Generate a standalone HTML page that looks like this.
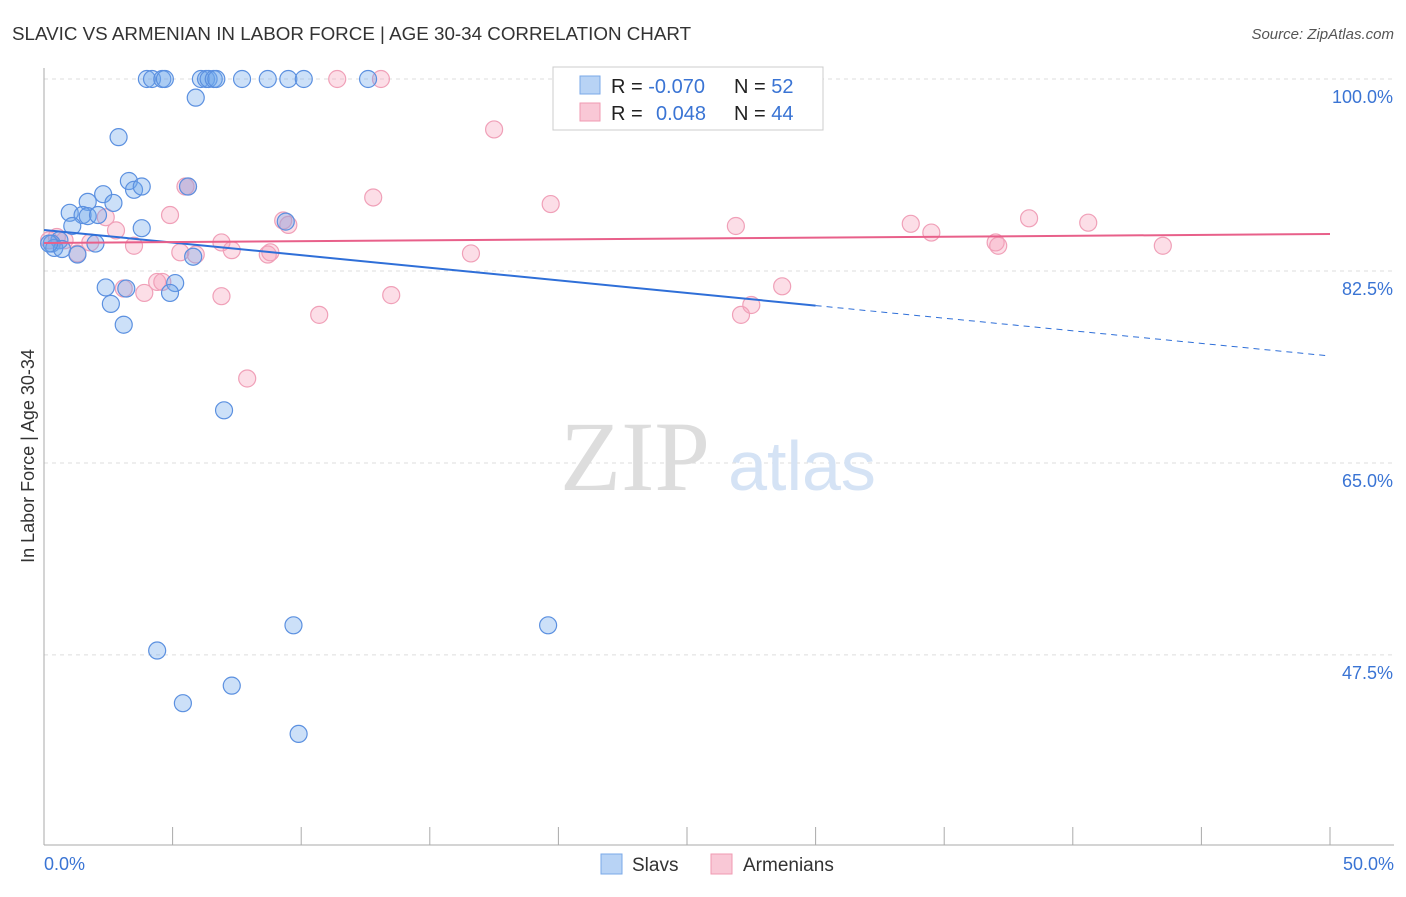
<!DOCTYPE html>
<html><head><meta charset="utf-8"><style>
body{margin:0;background:#fff;font-family:"Liberation Sans",sans-serif}
</style></head><body>
<svg id="chart" width="1406" height="892" font-family="Liberation Sans, sans-serif">
<text x="12" y="40" font-size="18.8" fill="#333">SLAVIC VS ARMENIAN IN LABOR FORCE | AGE 30-34 CORRELATION CHART</text>
<text x="1394" y="39" font-size="15" fill="#555" font-style="italic" text-anchor="end">Source: ZipAtlas.com</text>
<text x="34" y="456" font-size="18" fill="#333" text-anchor="middle" transform="rotate(-90 34 456)">In Labor Force | Age 30-34</text>
<g id="grid"></g>
<g><text x="635" y="490" font-size="100" fill="#ddd" style="font-family:'Liberation Serif',serif" text-anchor="middle">ZIP</text><text x="802" y="490" font-size="70" fill="#d5e3f5" text-anchor="middle">atlas</text></g>
<g id="pts"></g>
<g id="lines"></g>
<g>
<rect x="553" y="67" width="270" height="63" fill="#fff" stroke="#ccc"/>
<rect x="580" y="76" width="20" height="18" fill="#b8d3f5" stroke="#7aa8e8"/>
<rect x="580" y="103" width="20" height="18" fill="#f9c8d6" stroke="#f09ab2"/>
<text x="611" y="93" font-size="20" fill="#222">R = <tspan fill="#3a74d4">-0.070</tspan></text>
<text x="734" y="93" font-size="20" fill="#222">N = <tspan fill="#3a74d4">52</tspan></text>
<text x="611" y="120" font-size="20" fill="#222">R = <tspan fill="#3a74d4" x="656">0.048</tspan></text>
<text x="734" y="120" font-size="20" fill="#222">N = <tspan fill="#3a74d4">44</tspan></text>
</g>
<g>
<rect x="601" y="854" width="21" height="20" fill="#b8d3f5" stroke="#7aa8e8"/>
<text x="632" y="871" font-size="19" fill="#333">Slavs</text>
<rect x="711" y="854" width="21" height="20" fill="#f9c8d6" stroke="#f09ab2"/>
<text x="743" y="871" font-size="19" fill="#333">Armenians</text>
</g>
</svg>
<script>
const slavX=[4.0,4.2,4.6,4.7,6.1,6.3,6.4,6.6,6.7,7.7,8.7,9.5,10.1,12.6,28.1,5.9,2.9,3.3,3.5,3.8,2.3,1.7,2.7,1.0,1.5,1.7,2.1,1.1,3.8,0.6,0.3,0.4,0.7,2.0,1.3,5.8,5.1,2.4,3.2,4.9,2.6,3.1,7.0,9.7,19.6,4.4,7.3,5.4,9.9,5.6,9.4,0.2];
const slavY=[100,100,100,100,100,100,100,100,100,100,100,100,100,100,100,98.3,94.7,90.7,89.9,90.2,89.5,88.8,88.7,87.8,87.6,87.5,87.6,86.6,86.4,85.3,85.0,84.6,84.5,85.0,84.0,83.8,81.4,81.0,80.9,80.5,79.5,77.6,69.8,50.2,50.2,47.9,44.7,43.1,40.3,90.2,87.0,85.0];
const armX=[11.4,13.1,17.5,5.5,12.8,19.7,4.9,2.4,9.3,9.5,2.8,0.5,0.8,3.5,6.9,7.3,5.3,5.9,8.7,8.8,16.6,26.9,33.7,34.5,38.3,40.6,37.0,37.1,43.5,1.3,3.1,3.9,4.4,4.6,6.9,13.5,28.7,10.7,27.1,27.5,7.9,1.8,0.2,5.6];
const armY=[100,100,95.4,90.2,89.2,88.6,87.6,87.4,87.1,86.7,86.2,85.6,85.3,84.8,85.1,84.4,84.2,84.0,84.0,84.2,84.1,86.6,86.8,86.0,87.3,86.9,85.1,84.8,84.8,84.1,80.9,80.5,81.5,81.5,80.2,80.3,81.1,78.5,78.5,79.4,72.7,85.1,85.3,90.2];
const yTicks=[100,82.5,65,47.5];
const yTickLabels=["100.0%","82.5%","65.0%","47.5%"];
const xTickLabels=["0.0%","50.0%"];
const slavTrend=[86.24,74.75];
const armTrend=[85.05,85.87];
const NS="http://www.w3.org/2000/svg";
const X=v=>44+v*25.72, Y=v=>79+(100-v)*10.97;
function mk(t,a,p){const e=document.createElementNS(NS,t);for(const k in a)e.setAttribute(k,a[k]);p.appendChild(e);return e;}
const grid=document.getElementById('grid');
yTicks.forEach((t,i)=>{
 const l=mk('line',{x1:44,x2:1394,y1:Y(t),y2:Y(t),stroke:'#ddd','stroke-dasharray':'4,4'},grid);
 
 
 const tx=mk('text',{x:1393,y:Y(t)+24,'font-size':18,fill:'#3a74d4','text-anchor':'end'},grid);tx.textContent=yTickLabels[i];
 
 
});
const ax=mk('line',{x1:44,x2:44,y1:68,y2:845,stroke:'#aaa'},grid);


const bx=mk('line',{x1:44,x2:1394,y1:845,y2:845,stroke:'#aaa'},grid);


for(let i=0;i<=10;i++){const t=mk('line',{x1:X(i*5),x2:X(i*5),y1:827,y2:845,stroke:'#aaa'},grid);
 
 }
[[0,'start',44],[50,'end',1394]].forEach((d,i)=>{const t=mk('text',{x:d[2],y:870,'font-size':18,fill:'#3a74d4','text-anchor':d[1]},grid);t.textContent=xTickLabels[i];
 
 });
const pts=document.getElementById('pts');
armX.forEach((x,i)=>{const c=mk('circle',{cx:X(x),cy:Y(armY[i]),r:8.5,fill:'rgba(245,160,185,0.35)',stroke:'#f0a0b8','stroke-width':1.2},pts);
 
 });
slavX.forEach((x,i)=>{const c=mk('circle',{cx:X(x),cy:Y(slavY[i]),r:8.5,fill:'rgba(110,165,235,0.35)',stroke:'#5b90e0','stroke-width':1.2},pts);
 
 });
const lg=document.getElementById('lines');
const sy=x=>slavTrend[0]+(slavTrend[1]-slavTrend[0])*x/50;
const l1=mk('line',{x1:X(0),y1:Y(sy(0)),x2:X(30),y2:Y(sy(30)),stroke:'#2f6fd8','stroke-width':2},lg);


const l2=mk('line',{x1:X(30),y1:Y(sy(30)),x2:X(50),y2:Y(sy(50)),stroke:'#2f6fd8','stroke-width':1,'stroke-dasharray':'6,5'},lg);


const l3=mk('line',{x1:X(0),y1:Y(armTrend[0]),x2:X(50),y2:Y(armTrend[1]),stroke:'#e8608a','stroke-width':2},lg);


</script>
</body></html>
